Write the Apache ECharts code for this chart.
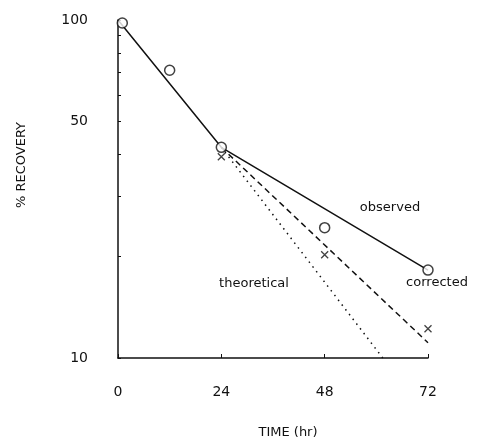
<!DOCTYPE html>
<html>
<head>
<meta charset="utf-8">
<script src="https://cdn.jsdelivr.net/npm/echarts@6/dist/echarts.min.js"></script>
<style>
  html, body { margin: 0; padding: 0; background: #fff; }
  #main { width: 485px; height: 447px; }
</style>
</head>
<body>
<div id="main"></div>
<script>
// measured points (% recovery vs time)
var obsHours = [1, 12, 24, 48, 72];
var obsValues = [98, 71, 42, 24.3, 18.2];
var corrHours = [24, 48, 72];
var corrValues = [39.4, 20.2, 12.2];

// drawn lines
var observedLineHours = [0, 24, 72];
var observedLineValues = [100, 42, 18.2];
var correctedLineHours = [24, 72];
var correctedLineValues = [42, 11.1];
var theoreticalLineHours = [24, 61.5];
var theoreticalLineValues = [42, 10];

// axis ticks
var xTicks = [0, 24, 48, 72];
var yLabelValues = [10, 50, 100];
var yTickValues = [10, 20, 30, 40, 50, 60, 70, 80, 90, 100];

function pairs(xs, ys) {
    return xs.map(function (x, i) { return [x, ys[i]]; });
}

var FONT = 'DejaVu Sans';
var INK = '#111';

var myChart = echarts.init(document.getElementById('main'));

var option = {
    backgroundColor: '#fff',
    animation: false,
    grid: { left: 118, right: 57, top: 20, bottom: 89, containLabel: false, outerBoundsMode: 'none' },
    xAxis: {
        type: 'value',
        min: 0,
        max: 72,
        interval: 24,
        name: 'TIME (hr)',
        nameLocation: 'middle',
        nameGap: 68,
        nameTextStyle: { fontFamily: FONT, fontSize: 13, color: INK, padding: [0, 0, 0, 30] },
        axisLine: { lineStyle: { color: INK, width: 1.5 } },
        axisTick: { inside: true, length: 4, lineStyle: { color: INK } },
        axisLabel: {
            margin: 27,
            fontFamily: FONT, fontSize: 14, color: INK,
            customValues: xTicks
        },
        splitLine: { show: false }
    },
    yAxis: {
        type: 'log',
        logBase: 10,
        min: 10,
        max: 100,
        name: '% RECOVERY',
        nameLocation: 'middle',
        nameGap: 90,
        nameTextStyle: { fontFamily: FONT, fontSize: 13, color: INK, padding: [0, 0, 0, 48] },
        axisLine: { show: true, lineStyle: { color: INK, width: 1.5 } },
        axisTick: { show: true, inside: true, length: 3, lineStyle: { color: INK }, customValues: yTickValues },
        axisLabel: {
            margin: 30,
            fontFamily: FONT, fontSize: 14, color: INK,
            customValues: yLabelValues
        },
        splitLine: { show: false }
    },
    series: [
        {
            name: 'observed',
            type: 'line',
            data: pairs(observedLineHours, observedLineValues),
            showSymbol: false,
            lineStyle: { color: INK, width: 1.5 }
        },
        {
            name: 'corrected',
            type: 'line',
            data: pairs(correctedLineHours, correctedLineValues),
            showSymbol: false,
            lineStyle: { color: INK, width: 1.5, type: [6, 4] }
        },
        {
            name: 'theoretical',
            type: 'line',
            data: pairs(theoreticalLineHours, theoreticalLineValues),
            showSymbol: false,
            lineStyle: { color: INK, width: 1.5, type: [1.5, 4.5] }
        },
        {
            name: 'observed points',
            type: 'scatter',
            data: pairs(obsHours, obsValues),
            symbol: 'circle',
            symbolSize: 10,
            itemStyle: { color: '#fff', borderColor: INK, borderWidth: 1.5 },
            z: 3
        },
        {
            name: 'corrected points',
            type: 'scatter',
            data: pairs(corrHours, corrValues),
            symbol: 'path://M0,0L10,10M10,0L0,10',
            symbolSize: 7,
            itemStyle: { color: 'none', borderColor: INK, borderWidth: 1.3 },
            z: 3
        }
    ],
    graphic: [
        { type: 'text', x: 390, y: 208, style: { text: 'observed', align: 'center', verticalAlign: 'middle', fontFamily: FONT, fontSize: 13, fill: INK } },
        { type: 'text', x: 437, y: 283, style: { text: 'corrected', align: 'center', verticalAlign: 'middle', fontFamily: FONT, fontSize: 13, fill: INK } },
        { type: 'text', x: 254, y: 284, style: { text: 'theoretical', align: 'center', verticalAlign: 'middle', fontFamily: FONT, fontSize: 13, fill: INK } }
    ]
};

myChart.setOption(option);
</script>
</body>
</html>
